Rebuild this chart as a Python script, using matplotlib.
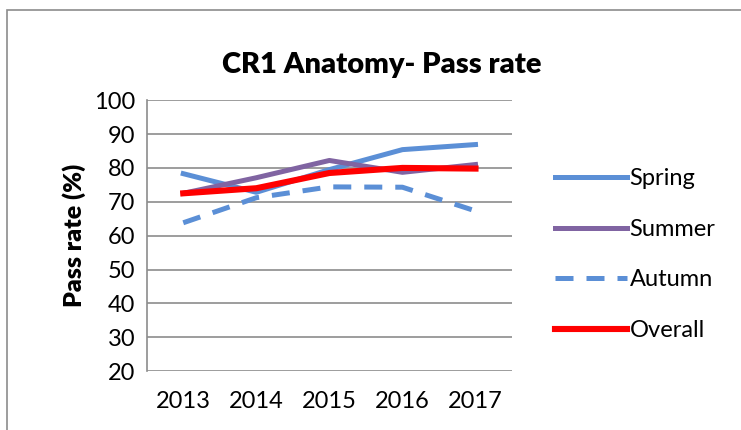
import matplotlib.pyplot as plt
from matplotlib.patches import Rectangle

plt.rcParams['font.family'] = ['Lato', 'DejaVu Sans']

years = ['2013', '2014', '2015', '2016', '2017']
spring = [78.3, 72.8, 79.5, 85.4, 86.9]
summer = [72.5, 77.1, 82.2, 78.7, 81.0]
autumn = [63.8, 71.2, 74.4, 74.3, 67.3]
overall = [72.5, 74.0, 78.5, 80.0, 79.8]

fig = plt.figure(figsize=(7.41, 4.30), dpi=100)
ax = fig.add_axes([0.198, 0.137, 0.493, 0.630])

x = range(len(years))
ax.plot(x, spring, color='#5B8FD6', linewidth=3.6, label='Spring')
ax.plot(x, summer, color='#8064A2', linewidth=3.6, label='Summer')
ax.plot(x, autumn, color='#5B8FD6', linewidth=3.6, linestyle=(0, (3.6, 2.6)), label='Autumn')
ax.plot(x, overall, color='#FF0000', linewidth=4.4, label='Overall')

ax.set_xlim(-0.5, 4.5)
ax.set_ylim(20, 100)
ax.set_yticks(range(20, 101, 10))
ax.set_xticks(list(x))
ax.set_xticklabels(years)
ax.tick_params(length=0, labelsize=17, pad=8)
ax.tick_params(axis='x', pad=14)
ax.grid(axis='y', color='#8C8C8C', linewidth=1.2)
ax.set_axisbelow(True)
for s in ['top', 'right', 'bottom']:
    ax.spines[s].set_visible(False)
ax.spines['left'].set_color('#8C8C8C')
ax.spines['left'].set_linewidth(1.2)

ax.set_ylabel('Pass rate (%)', fontsize=18, fontweight='heavy', labelpad=6)
fig.text(0.515, 0.848, 'CR1 Anatomy- Pass rate', fontsize=21, fontweight='heavy',
         ha='center', va='center')

ax.legend(loc='center left', bbox_to_anchor=(1.06, 0.43), frameon=False, fontsize=17,
          handlelength=3.05, labelspacing=1.25, handletextpad=0.1)

# outer chart border
fig.patches.append(Rectangle((0.009, -0.02), 1.1, 0.997, transform=fig.transFigure,
                             fill=False, edgecolor='#8C8C8C', linewidth=1.2))

fig.savefig('out.png', dpi=100)
